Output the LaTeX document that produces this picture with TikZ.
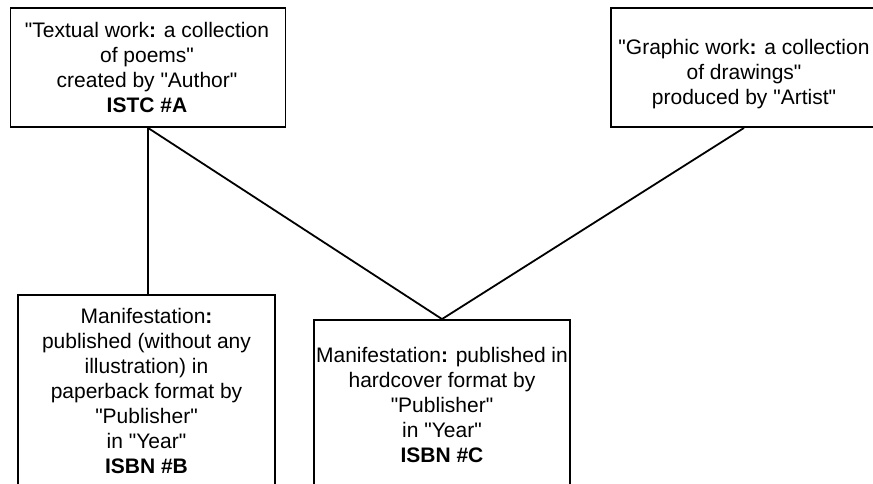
\documentclass[tikz,border=0pt]{standalone}
\usepackage{fontspec}
\setmainfont{Liberation Sans}[Ligatures=TeXOff]
\begin{document}
\begin{tikzpicture}[x=1pt,y=-1pt,
  box/.style={draw=black,line width=1.8pt,rectangle,inner sep=0pt},
  txt/.style={align=center,inner sep=0pt,font=\fontsize{21}{25}\selectfont},
  link/.style={draw=black,line width=1.8pt}]
\useasboundingbox (0,0) rectangle (873,484);
\clip (0,0) rectangle (873,484);
\fill[white] (0,0) rectangle (873,484);
% boxes
\node[box,minimum width=275pt,minimum height=119pt] (A) at (148,67.5) {};
\node[box,minimum width=266pt,minimum height=119pt] (G) at (744,67.5) {};
\node[box,minimum width=257pt,minimum height=220pt] (B) at (146.5,405) {};
\node[box,minimum width=256pt,minimum height=200pt] (C) at (442,420) {};
% texts
\node[txt] (tA) at (147,67) {"Textual work\textbf{:} a collection\\of poems"\\created by "Author"\\\textbf{ISTC \#A}};
\node[txt] (tG) at (744,74) {"Graphic work\textbf{:} a collection\\of drawings"\\produced by "Artist"};
\node[txt] (tB) at (146.5,390.5) {Manifestation\textbf{:}\\published (without any\\illustration) in\\paperback format by\\"Publisher"\\in "Year"\\\textbf{ISBN \#B}};
\node[txt] (tC) at (442,404.5) {Manifestation\textbf{:} published in\\hardcover format by\\"Publisher"\\in "Year"\\\textbf{ISBN \#C}};
% connectors
\draw[link] (A.south) -- (A.south |- B.north);
\draw[link] (A.south) -- (C.north);
\draw[link] (G.south) -- (C.north);
\end{tikzpicture}
\end{document}
